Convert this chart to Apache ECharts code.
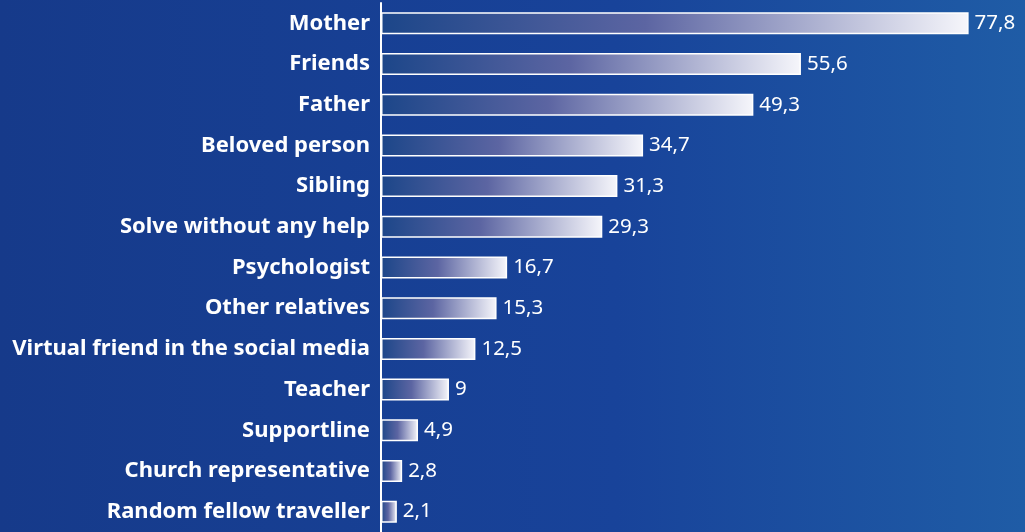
<!DOCTYPE html>
<html>
<head>
<meta charset="utf-8">
<script src="https://cdn.jsdelivr.net/npm/echarts@6/dist/echarts.min.js"></script>
<style>
  html, body { margin: 0; padding: 0; }
  #chart { width: 1025px; height: 532px; }
</style>
</head>
<body>
<div id="chart"></div>
<script>
const categories = [
  "Mother", "Friends", "Father", "Beloved person", "Sibling",
  "Solve without any help", "Psychologist", "Other relatives",
  "Virtual friend in the social media", "Teacher", "Supportline",
  "Church representative", "Random fellow traveller"
];
const values = [77.8, 55.6, 49.3, 34.7, 31.3, 29.3, 16.7, 15.3, 12.5, 9, 4.9, 2.8, 2.1];

const chart = echarts.init(document.getElementById("chart"));

chart.setOption({
  backgroundColor: {
    type: "linear", x: 0, y: 0, x2: 1, y2: 0,
    colorStops: [
      { offset: 0, color: "#163a8a" },
      { offset: 0.6, color: "#18439a" },
      { offset: 1, color: "#1f5ca6" }
    ]
  },
  grid: { left: 381, right: 2, top: 3, bottom: 0, containLabel: false },
  xAxis: {
    type: "value",
    min: 0,
    max: 85,
    show: false
  },
  yAxis: {
    type: "category",
    data: categories,
    inverse: true,
    axisLine: { show: true, lineStyle: { color: "#ffffff", width: 2 } },
    axisTick: { show: false },
    axisLabel: {
      color: "#ffffff",
      fontFamily: "Noto Sans",
      fontWeight: "bold",
      fontSize: 22,
      margin: 11
    }
  },
  series: [
    {
      type: "bar",
      data: values,
      barWidth: 22,
      itemStyle: {
        borderColor: "#ffffff",
        borderWidth: 1.5,
        color: {
          type: "linear", x: 0, y: 0, x2: 1, y2: 0,
          colorStops: [
            { offset: 0, color: "#1c4689" },
            { offset: 0.45, color: "#5c65a2" },
            { offset: 1, color: "#f6f6fb" }
          ]
        }
      },
      label: {
        show: true,
        position: "right",
        distance: 6,
        color: "#ffffff",
        fontFamily: "Noto Sans",
        fontSize: 20.5,
        formatter: function (p) {
          return String(p.value).replace(".", ",");
        }
      }
    }
  ]
});
</script>
</body>
</html>
